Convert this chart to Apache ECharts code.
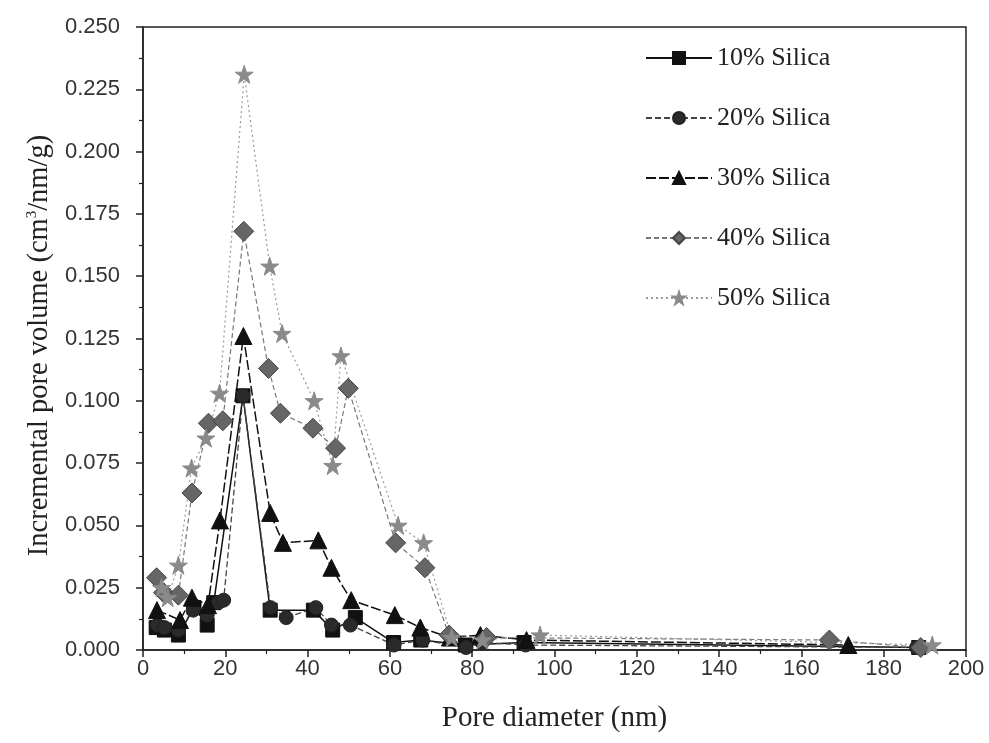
<!DOCTYPE html>
<html>
<head>
<meta charset="utf-8">
<script src="https://cdn.jsdelivr.net/npm/echarts@6/dist/echarts.min.js"></script>
<style>
  html, body { margin: 0; padding: 0; background: #fff; }
  #chart { width: 989px; height: 743px; }
</style>
</head>
<body>
<div id="chart"></div>
<script>
// pore diameter (nm), incremental pore volume (cm3/nm/g)
var silica10 = [[3.2,0.009],[5.2,0.008],[8.6,0.006],[12.4,0.017],[15.6,0.010],[17.2,0.019],[24.3,0.102],[30.9,0.016],[41.4,0.016],[46.1,0.008],[51.6,0.013],[60.9,0.003],[67.5,0.004],[78.3,0.002],[92.6,0.003],[188.5,0.001]];
var silica20 = [[3.5,0.010],[5.2,0.009],[8.6,0.008],[12.2,0.016],[15.6,0.014],[18.3,0.019],[19.6,0.020],[24.3,0.102],[31.0,0.017],[34.8,0.013],[42.0,0.017],[45.8,0.010],[50.4,0.010],[61.0,0.002],[68.0,0.004],[78.5,0.001],[82.4,0.003],[93.0,0.002],[188.0,0.001]];
var silica30 = [[3.4,0.016],[9.0,0.012],[11.9,0.021],[15.8,0.018],[18.7,0.052],[24.4,0.126],[30.9,0.055],[34.0,0.043],[42.6,0.044],[45.8,0.033],[50.6,0.020],[61.2,0.014],[67.4,0.009],[74.6,0.005],[82.0,0.006],[93.2,0.004],[171.4,0.002]];
var silica40 = [[3.3,0.029],[5.0,0.023],[8.6,0.022],[11.9,0.063],[15.9,0.091],[19.4,0.092],[24.5,0.168],[30.5,0.113],[33.4,0.095],[41.3,0.089],[46.8,0.081],[49.9,0.105],[61.4,0.043],[68.5,0.033],[74.4,0.006],[83.5,0.005],[166.8,0.004],[189.0,0.001]];
var silica50 = [[4.5,0.025],[6.0,0.021],[8.6,0.034],[11.8,0.073],[15.3,0.085],[18.6,0.103],[24.6,0.231],[30.8,0.154],[33.8,0.127],[41.6,0.100],[46.1,0.074],[48.1,0.118],[62.0,0.050],[68.2,0.043],[75.0,0.005],[82.5,0.004],[96.5,0.006],[191.8,0.002]];

var seriesNames = ['10% Silica', '20% Silica', '30% Silica', '40% Silica', '50% Silica'];
var xTicks = { min: 0, max: 200, interval: 20 };
var yTicks = { min: 0, max: 0.25, interval: 0.025 };

var chart = echarts.init(document.getElementById('chart'));

function mk(name, data, symbol, size, color, border, lineColor, lineType, lineWidth) {
  return {
    name: name,
    type: 'line',
    data: data,
    symbol: symbol,
    symbolSize: size,
    showAllSymbol: true,
    itemStyle: { color: color, borderColor: border, borderWidth: 1 },
    lineStyle: { color: lineColor, type: lineType, width: lineWidth },
    emphasis: { disabled: true },
    animation: false
  };
}

chart.setOption({
  backgroundColor: '#fff',
  grid: {
    left: 143, right: 23, top: 27, bottom: 93,
    show: true, borderColor: '#222', borderWidth: 1.5
  },
  legend: {
    orient: 'vertical',
    left: 640, top: 40,
    itemGap: 34,
    itemWidth: 66, itemHeight: 15,
    textStyle: { fontFamily: 'Liberation Serif', fontSize: 26, color: '#222' },
    data: seriesNames
  },
  xAxis: {
    type: 'value',
    min: xTicks.min, max: xTicks.max, interval: xTicks.interval,
    name: 'Pore diameter (nm)',
    nameLocation: 'middle', nameGap: 54,
    nameTextStyle: { fontFamily: 'Liberation Serif', fontSize: 29, color: '#222' },
    axisLine: { lineStyle: { color: '#222', width: 1.5 } },
    axisTick: { inside: false, length: 7, lineStyle: { color: '#222', width: 1.5 } },
    minorTick: { show: true, splitNumber: 2, length: 4, lineStyle: { color: '#222', width: 1.2 } },
    axisLabel: { fontFamily: 'Liberation Sans', fontSize: 22, color: '#333', margin: 8 },
    splitLine: { show: false }
  },
  yAxis: {
    type: 'value',
    min: yTicks.min, max: yTicks.max, interval: yTicks.interval,
    name: 'Incremental pore volume (cm{sup|3}/nm/g)',
    nameLocation: 'middle', nameGap: 88, nameRotate: 90,
    nameTextStyle: {
      fontFamily: 'Liberation Serif', fontSize: 28.5, color: '#222',
      padding: [0, 14, 0, 0],
      rich: { sup: { fontFamily: 'Liberation Serif', fontSize: 15, color: '#222', verticalAlign: 'top', padding: [0, 0, 12, 0] } }
    },
    axisLine: { lineStyle: { color: '#222', width: 1.5 } },
    axisTick: { inside: false, length: 7, lineStyle: { color: '#222', width: 1.5 } },
    minorTick: { show: true, splitNumber: 2, length: 4, lineStyle: { color: '#222', width: 1.2 } },
    axisLabel: {
      fontFamily: 'Liberation Sans', fontSize: 22, color: '#333', margin: 23,
      formatter: function (v) { return v.toFixed(3); }
    },
    splitLine: { show: false }
  },
  series: [
    mk(seriesNames[0], silica10, 'rect', 14, '#111', '#111', '#111', 'solid', 1.5),
    mk(seriesNames[1], silica20, 'circle', 14, '#2a2a2a', '#222', '#444', [6, 3], 1.3),
    mk(seriesNames[2], silica30, 'triangle', 17, '#111', '#111', '#111', [10, 3], 1.5),
    mk(seriesNames[3], silica40, 'diamond', 20, '#666', '#444', '#777', [5, 3], 1.2),
    mk(seriesNames[4], silica50, 'path://M50,0 L61.8,35.3 L100,35.3 L69.1,57.1 L80.9,92.7 L50,70.6 L19.1,92.7 L30.9,57.1 L0,35.3 L38.2,35.3 Z', 18, '#8a8a8a', '#8a8a8a', '#999', [2, 3], 1.2)
  ]
});
</script>
</body>
</html>
